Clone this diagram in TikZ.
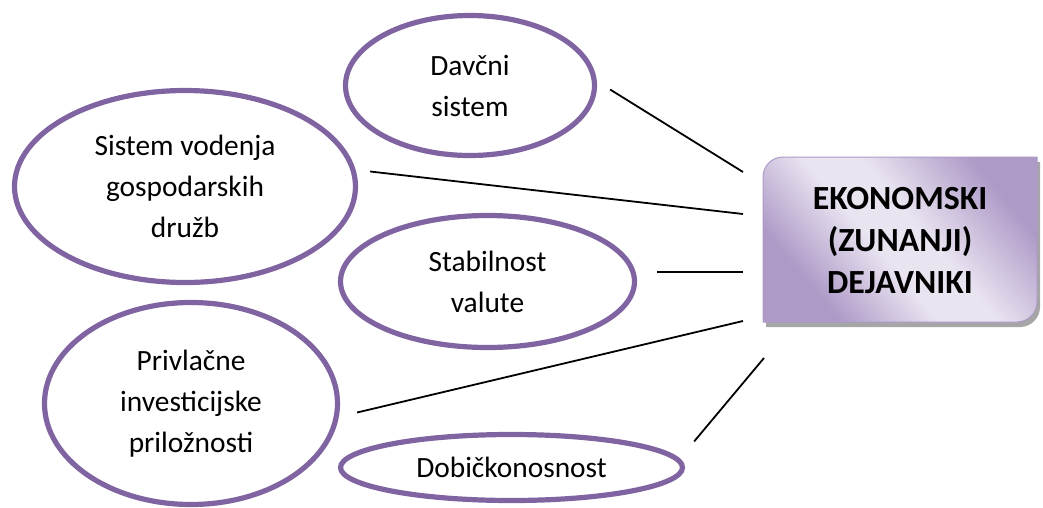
\documentclass[tikz,border=0pt]{standalone}
\usepackage{fontspec}
\setmainfont{Carlito}
\usetikzlibrary{shapes.geometric}
\definecolor{ovalpurple}{HTML}{8064A2}
\definecolor{lavlight}{HTML}{EAE4F1}
\definecolor{lavdark}{HTML}{AD9AC7}
\pgfdeclarehorizontalshading{ekoshade}{100bp}{color(0bp)=(lavdark); color(28bp)=(lavdark); color(45bp)=(lavlight); color(55bp)=(lavlight); color(74bp)=(lavdark); color(100bp)=(lavdark)}
\begin{document}
\begin{tikzpicture}[x=0.5pt,y=-0.5pt]


\tikzset{
	oval/.style={ellipse, draw=ovalpurple, fill=white, line width=2.6pt, inner sep=0pt, align=center,
      font=\fontsize{14.7pt}{20.5pt}\selectfont},
	link/.style={black, line width=0.9pt},
	ekobox/.style={inner sep=0pt, outer sep=0pt, minimum width=137pt, minimum height=82.5pt, align=center,
      font=\fontsize{16.9pt}{21pt}\selectfont\bfseries}
}

\useasboundingbox (0,0) rectangle (1043,508);

% box with shadow
\fill[gray!70] (766,182) .. controls (766,171) and (775,162) .. (786,162) -- (1040,162) -- (1040,307)
  .. controls (1040,318) and (1031,327) .. (1020,327) -- (766,327) -- cycle;
\path[shading=ekoshade, shading angle=40, draw=lavdark, line width=0.5pt]
  (763,177) .. controls (763,166) and (772,157) .. (783,157) -- (1037,157) -- (1037,302)
  .. controls (1037,313) and (1028,322) .. (1017,322) -- (763,322) -- cycle;
\node[ekobox] (eko) at (900,240.5) {EKONOMSKI\\(ZUNANJI)\\DEJAVNIKI};

\node[oval, minimum width=124.5pt, minimum height=70pt] (dav) at (470,85.5) {Davčni\\sistem};
\node[oval, minimum width=170.5pt, minimum height=96pt] (sist) at (185,186.5) {Sistem vodenja\\gospodarskih\\družb};
\node[oval, minimum width=147pt, minimum height=66pt] (stab) at (487.5,281.5) {Stabilnost\\valute};
\node[oval, minimum width=146.5pt, minimum height=101pt] (priv) at (191,403.5) {Privlačne\\investicijske\\priložnosti};
\node[oval, minimum width=171pt, minimum height=33pt] (dob) at (511.5,467.5) {Dobičkonosnost};

\draw[link] ([shift={(13,4)}]dav.east) -- ([shift={(-20,-68.5)}]eko.west);
\draw[link] ([shift={(12,-15)}]sist.east) -- ([shift={(-20,-26.5)}]eko.west);
\draw[link] ([shift={(20,-9.5)}]stab.east) -- ([shift={(-20,31.5)}]eko.west);
\draw[link] ([shift={(17,9)}]priv.east) -- ([shift={(-20,80.5)}]eko.west);
\draw[link] ([shift={(9,-26)}]dob.east) -- ([shift={(1,35)}]eko.south west);

\end{tikzpicture}
\end{document}
